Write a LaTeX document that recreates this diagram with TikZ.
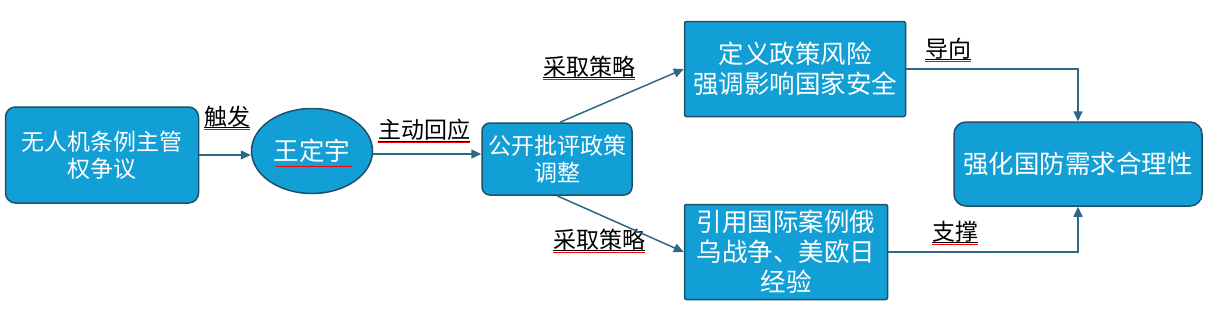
\documentclass[tikz,border=0pt]{standalone}
\usepackage{fontspec}
\setmainfont{Noto Sans CJK SC}
\usepackage{xcolor}
\usetikzlibrary{shapes.geometric}
\usetikzlibrary{arrows.meta}
\usetikzlibrary{positioning}

\definecolor{boxblue}{RGB}{18,159,213}
\definecolor{boxedge}{RGB}{30,80,105}
\definecolor{linkblue}{RGB}{45,105,135}

\begin{document}
\begin{tikzpicture}[
  x=1pt, y=-1pt,
  box/.style={draw=boxedge, fill=boxblue, line width=1.5pt, text=white, align=center, inner sep=0pt},
  small/.style={font=\fontsize{23}{27}\selectfont},
  big/.style={font=\fontsize{25.5}{30}\selectfont},
  lbl/.style={font=\fontsize{23}{27}\selectfont, inner sep=0pt},
  link/.style={->, draw=linkblue, line width=1.5pt},
]
\tikzset{>={Triangle[length=10pt, width=9pt]}}
\useasboundingbox (0,0) rectangle (1231,322);

  % Nodes
  \node[box, small, rounded corners=10pt, minimum width=193pt, minimum height=96pt] (dispute) at (102,155) {无人机条例主管\\权争议};
  \node[box, big, ellipse, minimum width=121pt, minimum height=85pt] (wang) at (312,151) {王定宇};
  \node[box, small, rounded corners=8pt, minimum width=150pt, minimum height=72pt] (critic) at (557,159) {公开批评政策\\调整};
  \node[box, big, rounded corners=2pt, minimum width=221pt, minimum height=95pt] (risk) at (795,69) {定义政策风险\\强调影响国家安全};
  \node[box, big, rounded corners=2pt, minimum width=203pt, minimum height=95pt] (cases) at (786,252) {引用国际案例俄\\乌战争、美欧日\\经验};
  \node[box, big, rounded corners=12pt, minimum width=248pt, minimum height=84pt] (defense) at (1078,164) {强化国防需求合理性};

  % Labels
  \node[lbl] (trigger) at (227,117) {触发};
  \node[lbl] (respond) at (424,130) {主动回应};
  \node[lbl] (strat1) at (589,67) {采取策略};
  \node[lbl] (strat2) at (599,240) {采取策略};
  \node[lbl] (guide) at (948,49) {导向};
  \node[lbl] (support) at (955,232) {支撑};

  % Underlines
  \foreach \l in {trigger,respond,strat1,strat2,guide,support}{
    \draw[black, line width=0.8pt] (\l.south west) -- (\l.south east);
    \draw[red, line width=1pt] ([yshift=-1.5pt]\l.south west) -- ([yshift=-1.5pt]\l.south east);
  }
  \draw[red, line width=1pt] ([xshift=-36pt, yshift=-15pt]wang.center) -- ([xshift=40pt, yshift=-15pt]wang.center);

  % Edges
  \draw[link] (dispute.east |- 0,155) -- (wang.west |- 0,155);
  \draw[link] (wang.east |- 0,154) -- (critic.west |- 0,154);
  \draw[link] ([xshift=3pt]critic.north) -- (risk.west);
  \draw[link] (critic.south) -- (cases.west);
  \draw[link] (risk.east) -| (defense.north);
  \draw[link] (cases.east) -| (defense.south);

\end{tikzpicture}
\end{document}
